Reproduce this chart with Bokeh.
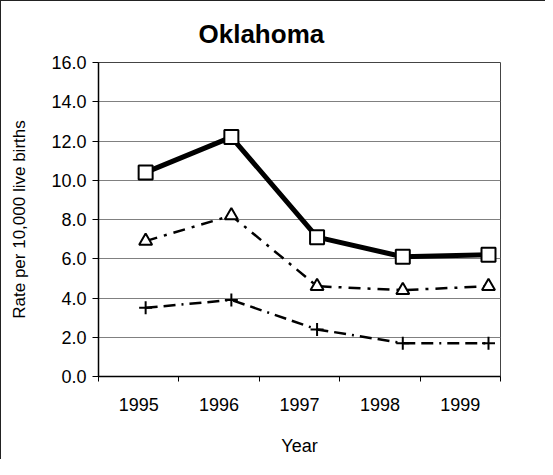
from bokeh.plotting import figure
from bokeh.models import (Range1d, LinearAxis, FixedTicker, NumeralTickFormatter, Title)
from bokeh.embed import file_html
from bokeh.resources import INLINE

# ---- data ----
years = [1995, 1996, 1997, 1998, 1999]
year_labels = ["1995", "1996", "1997", "1998", "1999"]
series_square = [10.4, 12.2, 7.1, 6.1, 6.2]
series_triangle = [6.9, 8.2, 4.6, 4.4, 4.6]
series_plus = [3.5, 3.9, 2.4, 1.7, 1.7]
y_ticks = [0, 2, 4, 6, 8, 10, 12, 14, 16]
title_text = "Oklahoma"
y_title = "Rate per 10,000 live births"
x_title = "Year"

FONT = "Liberation Sans"

p = figure(width=545, height=459, output_backend="svg", toolbar_location=None,
           x_range=Range1d(1994.45, 1999.14), y_range=Range1d(0, 16),
           x_axis_location=None, y_axis_location="left",
           min_border_left=97, min_border_right=46, min_border_top=61,
           min_border_bottom=84)
p.styles = {"border-left": "1px solid #222", "border-top": "1px solid #222"}

p.extra_x_ranges = {"cat": Range1d(1994.5, 1999.5)}

# title
t = Title(text=title_text, text_font=FONT, text_font_size="26px",
          text_font_style="bold", text_color="black", align="left", offset=100,
          standoff=28)
p.add_layout(t, "above")

# x axis
xa = LinearAxis(x_range_name="cat")
xa.ticker = FixedTicker(ticks=years, minor_ticks=[1994.5, 1995.5, 1996.5, 1997.5, 1998.5, 1999.5])
xa.major_label_overrides = {y: l for y, l in zip(years, year_labels)}
xa.major_tick_line_color = None
xa.minor_tick_in = 0
xa.minor_tick_out = 5
xa.minor_tick_line_color = "black"
xa.axis_line_color = "black"
xa.axis_line_width = 1.5
xa.major_label_text_font = FONT
xa.major_label_text_font_size = "18px"
xa.major_label_text_color = "black"
xa.major_label_standoff = 15
xa.axis_label = x_title
xa.axis_label_text_font = FONT
xa.axis_label_text_font_size = "18px"
xa.axis_label_text_font_style = "normal"
xa.axis_label_text_color = "black"
xa.axis_label_standoff = 22
p.add_layout(xa, "below")

# y axis
ya = p.yaxis[0]
ya.ticker = FixedTicker(ticks=y_ticks)
ya.formatter = NumeralTickFormatter(format="0.0")
ya.major_tick_in = 0
ya.major_tick_out = 6
ya.minor_tick_line_color = None
ya.axis_line_color = "black"
ya.axis_line_width = 1.5
ya.major_label_text_font = FONT
ya.major_label_text_font_size = "18px"
ya.major_label_text_color = "black"
ya.major_label_standoff = 6
ya.axis_label = y_title
ya.axis_label_text_font = FONT
ya.axis_label_text_font_size = "17px"
ya.axis_label_text_font_style = "normal"
ya.axis_label_text_color = "black"
ya.axis_label_standoff = 19

p.xgrid.visible = False
p.ygrid.grid_line_color = "#808080"
p.ygrid.grid_line_width = 1
p.ygrid.ticker = FixedTicker(ticks=y_ticks)

p.outline_line_color = "#444444"
p.outline_line_width = 1
p.background_fill_color = "white"
p.border_fill_color = "white"

# series
p.line(years, series_square, line_color="black", line_width=5)
p.scatter(years, series_square, marker="square", size=14, fill_color="white",
          line_color="black", line_width=2)

p.line(years, series_triangle, line_color="black", line_width=2.5, line_dash="12 7 3 7")
p.scatter(years, series_triangle, marker="triangle", size=13, fill_color="white",
          line_color="black", line_width=2)

p.line(years, series_plus, line_color="black", line_width=2.5, line_dash="12 6 12 6 2 6")
p.scatter(years, series_plus, marker="cross", size=13, line_color="black", line_width=2)

open("out.html", "w").write(file_html(p, INLINE))
